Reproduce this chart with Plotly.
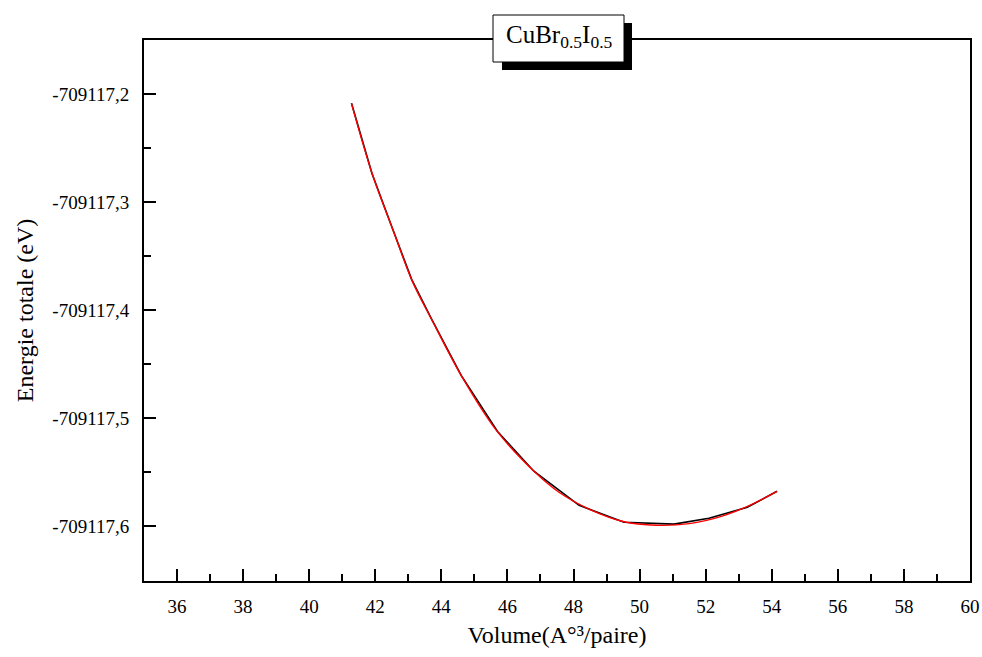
import plotly.graph_objects as go

# Data
volume = [41.28, 41.9, 42.5, 43.1, 43.7, 44.6, 45.7, 46.8, 48.17, 49.53, 51.04, 52.1, 53.26, 54.16]
energy = [-709117.2086, -709117.2735, -709117.3228, -709117.3715, -709117.4080, -709117.4604,
          -709117.5123, -709117.549, -709117.5806, -709117.5963, -709117.598, -709117.5926,
          -709117.5824, -709117.5676]

fit_volume = [41.28, 41.92, 42.52, 43.13, 43.72, 44.63, 45.66, 46.87, 47.56, 48.5, 49.5,
              50.5, 51.5, 52.5, 53.3, 54.16]
fit_energy = [-709117.2086, -709117.275, -709117.3244, -709117.3738, -709117.4093, -709117.462,
              -709117.511, -709117.551, -709117.5685, -709117.5845, -709117.5955,
              -709117.599, -709117.5975, -709117.5905, -709117.581, -709117.5676]

x_ticks = [36, 38, 40, 42, 44, 46, 48, 50, 52, 54, 56, 58, 60]
y_tickvals = [-709117.2, -709117.3, -709117.4, -709117.5, -709117.6]
y_ticktext = ["-709117,2", "-709117,3", "-709117,4", "-709117,5", "-709117,6"]

FONT = "Liberation Serif, Times New Roman, serif"

fig = go.Figure()
fig.add_trace(go.Scatter(x=volume, y=energy, mode="lines",
                         line=dict(color="black", width=1.6), showlegend=False))
fig.add_trace(go.Scatter(x=fit_volume, y=fit_energy, mode="lines",
                         line=dict(color="#ff0000", width=1.4, shape="spline"),
                         showlegend=False))

W, H = 982, 657
L, R, T, B = 144, 12, 40, 76
pw, ph = W - L - R, H - T - B


def px(xp):
    return (xp - L) / pw


def py(yp):
    return (H - B - yp) / ph


fig.update_layout(
    width=W, height=H,
    margin=dict(l=L, r=R, t=T, b=B, autoexpand=False),
    plot_bgcolor="white", paper_bgcolor="white",
    font=dict(family=FONT, color="black", size=19),
    xaxis=dict(range=[35, 60], tickvals=x_ticks, ticks="inside", ticklen=12, tickwidth=2,
               tickcolor="black", showline=True, linecolor="black", linewidth=2,
               mirror=True, showgrid=False, zeroline=False, automargin=False,
               minor=dict(ticks="inside", dtick=1, tick0=35, ticklen=7, tickwidth=2,
                          tickcolor="black", showgrid=False),
               ticklabelstandoff=7,
               title=dict(text="Volume(A°³/paire)", font=dict(size=24, family=FONT), standoff=10)),
    yaxis=dict(range=[-709117.6506, -709117.15], tickvals=y_tickvals, ticktext=y_ticktext,
               ticks="inside", ticklen=12, tickwidth=2, tickcolor="black",
               showline=True, linecolor="black", linewidth=2, mirror=True,
               showgrid=False, zeroline=False, automargin=False,
               minor=dict(ticks="inside", dtick=0.05, tick0=-709117.6, ticklen=7,
                          tickwidth=2, tickcolor="black", showgrid=False),
               ticklabelstandoff=9,
               title=dict(text="Energie totale (eV)", font=dict(size=24, family=FONT), standoff=12)),
    shapes=[
        dict(type="rect", xref="paper", yref="paper",
             x0=px(502), x1=px(632), y0=py(70), y1=py(23),
             fillcolor="black", line=dict(width=0), layer="above"),
        dict(type="rect", xref="paper", yref="paper",
             x0=px(493), x1=px(624), y0=py(62), y1=py(15),
             fillcolor="white", line=dict(color="black", width=1), layer="above"),
    ],
    annotations=[
        dict(text="CuBr<sub>0.5</sub>I<sub>0.5</sub>", xref="paper", yref="paper",
             x=px(559), y=py(37), xanchor="center", yanchor="middle",
             showarrow=False, font=dict(size=25, family=FONT, color="black")),
    ],
)

fig.write_html("out.html")
